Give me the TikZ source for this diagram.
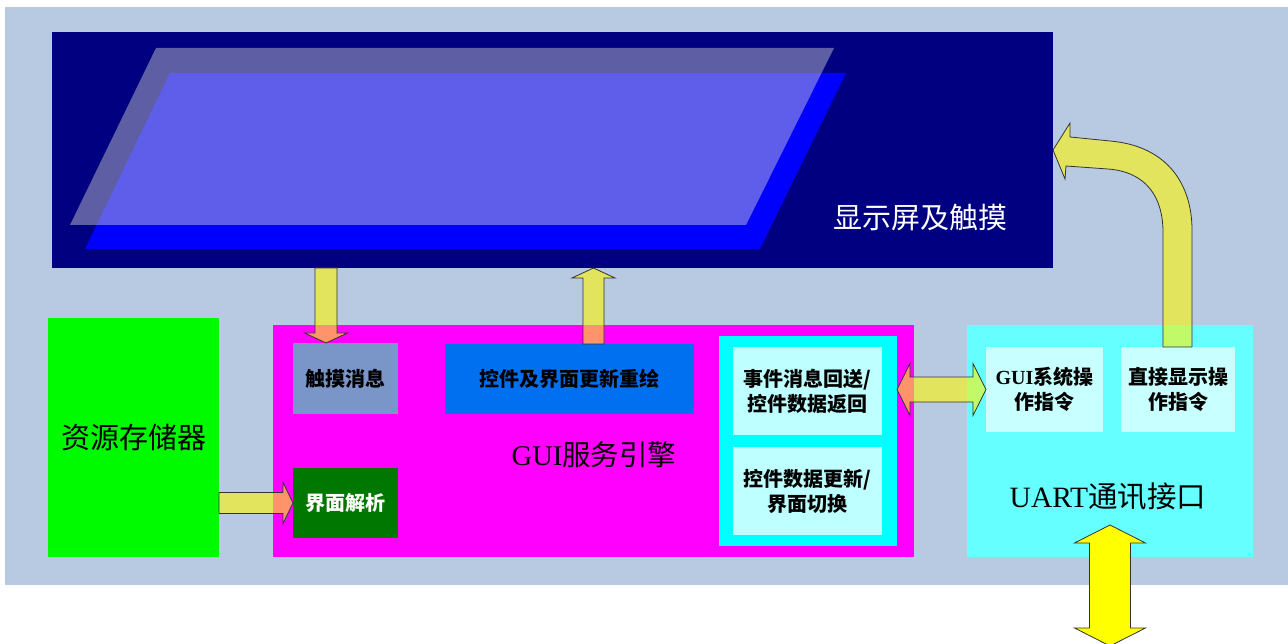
\documentclass[tikz,border=0pt]{standalone}
\usepackage{fontspec}
\setmainfont{Liberation Serif}
\newfontfamily\cjk{Noto Sans CJK SC}
\usetikzlibrary{calc}

\definecolor{panelbg}{RGB}{184,201,226}
\definecolor{dispnavy}{RGB}{0,0,128}
\definecolor{screenblue}{RGB}{0,0,255}
\definecolor{storegreen}{RGB}{0,250,0}
\definecolor{guimagenta}{RGB}{255,0,255}
\definecolor{touchgray}{RGB}{122,150,200}
\definecolor{redrawblue}{RGB}{0,112,240}
\definecolor{parsegreen}{RGB}{0,120,0}
\definecolor{evcyan}{RGB}{0,255,255}
\definecolor{evlight}{RGB}{190,255,255}
\definecolor{uartcyan}{RGB}{102,255,255}
\definecolor{cmdlight}{RGB}{200,255,255}
\definecolor{arrowyellow}{RGB}{255,246,6}
\definecolor{busyellow}{RGB}{255,255,0}

% block arrow: [style]{from}{to}{half shaft}{half head}{head length}
\newcommand\blockarrow[6][]{%
  \coordinate (ba-h) at ($(#3)!#6!(#2)$);
  \filldraw[#1] ($(#2)!#4!90:(#3)$) -- ($(ba-h)!#4!90:(#3)$) -- ($(ba-h)!#5!90:(#3)$) -- (#3)
    -- ($(ba-h)!#5!-90:(#3)$) -- ($(ba-h)!#4!-90:(#3)$) -- ($(#2)!#4!-90:(#3)$) -- cycle;}
% same with two heads
\newcommand\doublearrow[6][]{%
  \coordinate (da-a) at ($(#2)!#6!(#3)$);
  \coordinate (da-b) at ($(#3)!#6!(#2)$);
  \filldraw[#1] (#2) -- ($(da-a)!#5!90:(#3)$) -- ($(da-a)!#4!90:(#3)$) -- ($(da-b)!#4!90:(#3)$)
    -- ($(da-b)!#5!90:(#3)$) -- (#3) -- ($(da-b)!#5!-90:(#3)$) -- ($(da-b)!#4!-90:(#3)$)
    -- ($(da-a)!#4!-90:(#3)$) -- ($(da-a)!#5!-90:(#3)$) -- cycle;}

\begin{document}
\begin{tikzpicture}[x=1pt,y=-1pt,
  box/.style={anchor=north west, inner sep=0pt, outer sep=0pt, align=center},
  small/.style={font=\fontsize{20}{25}\selectfont\bfseries\cjk},
  big/.style={font=\fontsize{29}{34}\selectfont\cjk},
  yarrow/.style={fill=arrowyellow, fill opacity=0.6, draw=black!80, line width=0.8pt},
  busarrow/.style={fill=busyellow, draw=black!80, line width=0.8pt}]
\useasboundingbox (0,0) rectangle (1288,644);
\fill[panelbg] (5,7) rectangle (1288,585);

% display and touch
\node[box, fill=dispnavy, minimum width=1001pt, minimum height=236pt] (disp) at (52,32) {};
\fill[screenblue] (170,73) -- (846,73) -- (760,249) -- (85,249) -- cycle;
\fill[white!65!gray, fill opacity=0.45] (156,48) -- (834,48) -- (746,225) -- (70,225) -- cycle;
\node[big, text=white] (displabel) at (920,217) {显示屏及触摸};

% resource storage
\node[box, big, fill=storegreen, minimum width=171pt, minimum height=239pt] (store) at (48,318) {资源存储器};

% GUI engine
\node[box, fill=guimagenta, minimum width=641pt, minimum height=232pt] (gui) at (273,325) {};
\node[font=\fontsize{28.5}{33}\selectfont] (guilabel) at (594,455) {GUI\cjk 服务引擎};
\node[box, small, fill=touchgray, minimum width=105pt, minimum height=71pt] (touch) at (293,343) {触摸消息};
\node[box, small, fill=redrawblue, minimum width=249pt, minimum height=70pt] (redraw) at (445,344) {控件及界面更新重绘};
\node[box, small, fill=parsegreen, text=white, minimum width=105pt, minimum height=70pt] (parse) at (293,468) {界面解析};
\node[box, fill=evcyan, minimum width=178pt, minimum height=210pt] (evbox) at (719,336) {};
\node[box, small, fill=evlight, minimum width=149pt, minimum height=88pt] (ev1) at (733,347) {事件消息回送/\\控件数据返回};
\node[box, small, fill=evlight, minimum width=149pt, minimum height=88pt] (ev2) at (733,447) {控件数据更新/\\界面切换};

% UART
\node[box, fill=uartcyan, minimum width=286pt, minimum height=232pt] (uart) at (967,325) {};
\node[box, small, fill=cmdlight, minimum width=117pt, minimum height=85pt] (cmd1) at (986,347) {{\rmfamily GUI}系统操\\作指令};
\node[box, small, fill=cmdlight, minimum width=114pt, minimum height=85pt] (cmd2) at (1121,347) {直接显示操\\作指令};
\node[font=\fontsize{29.5}{34}\selectfont] (uartlabel) at (1108,497) {UART\cjk 通讯接口};

% arrows
\path (touch.north) ++(-19.5,0) coordinate (touchin);
\coordinate (touchout) at (touchin |- disp.south);
\blockarrow[yarrow]{touchout}{touchin}{11pt}{21.5pt}{10pt}
\path (redraw.north) ++(24,0) coordinate (redrawout);
\coordinate (redrawin) at (redrawout |- disp.south);
\blockarrow[yarrow]{redrawout}{redrawin}{10.5pt}{21.5pt}{10pt}
\coordinate (parseout) at (parse.west -| store.east);
\blockarrow[yarrow]{parseout}{parse.west}{10.5pt}{20.5pt}{10pt}
\coordinate (evout) at (cmd1.west -| evbox.east);
\doublearrow[yarrow]{evout}{cmd1.west}{12.5pt}{26pt}{13pt}
\path (uart.south) ++(0,-32) coordinate (uartio);
\path (uart.south) ++(0,89) coordinate (hostio);
\doublearrow[busarrow]{uartio}{hostio}{20.5pt}{35.5pt}{18pt}

% direct display commands
\filldraw[yarrow] ($(cmd2.north)+(14,0)$) -- (1192,230) .. controls (1192,185) and (1168,146) .. (1110,141)
  -- (1070,137) -- (1070,123) -- (disp.east) -- (1065,179) -- (1066,166) -- (1108,169)
  .. controls (1147,172) and (1163,198) .. (1163,232) -- ($(cmd2.north)+(-15,0)$) -- cycle;
\end{tikzpicture}
\end{document}
